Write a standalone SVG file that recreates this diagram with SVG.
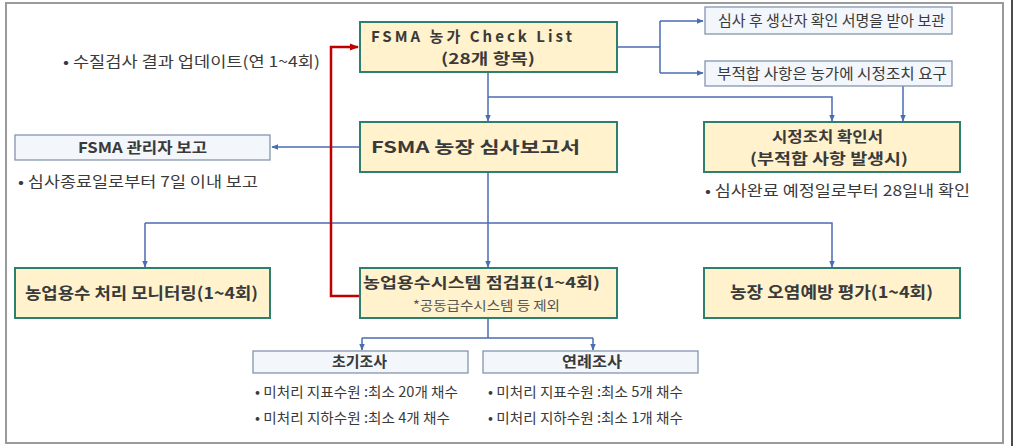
<svg xmlns="http://www.w3.org/2000/svg" width="1014" height="446" viewBox="0 0 1014 446">
<style>
text{font-family:"Noto Sans CJK KR","Noto Sans",sans-serif;fill:#3a3a3a}
.b{font-weight:bold;font-size:16px}
.b2{font-weight:bold;font-size:15px}
.n{font-size:15px}
.s{font-size:14px}
.y{fill:#FFF2CC;stroke:#2F7F6E;stroke-width:2}
.g{fill:#F3F6FA;stroke:#8496B0;stroke-width:1.3}
.c{fill:none;stroke:#4A6CB3;stroke-width:1.5}
.r{fill:none;stroke:#C00000;stroke-width:2.5}
</style>
<defs>
<marker id="a" viewBox="0 0 10 10" refX="9" refY="5" markerWidth="7" markerHeight="7" orient="auto" markerUnits="userSpaceOnUse"><path d="M0,1 L10,5 L0,9 z" fill="#4A6CB3"/></marker>
<marker id="ar" viewBox="0 0 10 10" refX="9" refY="5" markerWidth="9" markerHeight="9" orient="auto" markerUnits="userSpaceOnUse"><path d="M0,1 L10,5 L0,9 z" fill="#C00000"/></marker>
</defs>
<rect x="0" y="0" width="1014" height="446" fill="#fff"/>
<rect x="6" y="3" width="997" height="440" fill="none" stroke="#9a9a9a" stroke-width="2"/>
<line x1="1012" y1="0" x2="1012" y2="446" stroke="#111" stroke-width="1.5"/>

<g id="connectors">
<path class="c" d="M617,47 H660 M660,21 V73 M660,21 H703" marker-end="url(#a)"/>
<path class="c" d="M660,73 H703" marker-end="url(#a)"/>
<path class="c" d="M488,72 V121" marker-end="url(#a)"/>
<path class="c" d="M488,97 H832 V121" marker-end="url(#a)"/>
<path class="c" d="M903,86 V121" marker-end="url(#a)"/>
<path class="c" d="M360,147 H272" marker-end="url(#a)"/>
<path class="c" d="M488,172 V267" marker-end="url(#a)"/>
<path class="c" d="M145,223 H832 V267" marker-end="url(#a)"/>
<path class="c" d="M145,223 V267" marker-end="url(#a)"/>
<path class="c" d="M488,318 V338 M362,338 H593 M362,338 V350" marker-end="url(#a)"/>
<path class="c" d="M593,338 V350" marker-end="url(#a)"/>
<path class="r" d="M360,296 H331 V47 H358" marker-end="url(#ar)"/>
</g>

<g id="checklist">
<rect class="y" x="360" y="22" width="257" height="50"/>
<text class="b2" x="371" y="42" textLength="201" lengthAdjust="spacing">FSMA 농가 Check List</text>
<text class="b2" x="441" y="64" textLength="94" lengthAdjust="spacingAndGlyphs">(28개 항목)</text>
</g>

<g id="sign">
<rect class="g" x="705" y="7" width="247" height="27"/>
<text class="n" x="718" y="26" textLength="227" lengthAdjust="spacingAndGlyphs">심사 후 생산자 확인 서명을 받아 보관</text>
</g>

<g id="corrective-request">
<rect class="g" x="705" y="61" width="247" height="25"/>
<text class="n" x="717" y="79" textLength="230" lengthAdjust="spacingAndGlyphs">부적합 사항은 농가에 시정조치 요구</text>
</g>

<g id="water-update">
<text class="n" x="63" y="67" textLength="257" lengthAdjust="spacingAndGlyphs">• 수질검사 결과 업데이트(연 1~4회)</text>
</g>

<g id="audit-report">
<rect class="y" x="360" y="122" width="257" height="50"/>
<text class="b" x="371" y="153" textLength="209" lengthAdjust="spacingAndGlyphs">FSMA 농장 심사보고서</text>
</g>

<g id="corrective-confirm">
<rect class="y" x="704" y="122" width="256" height="50"/>
<text class="b2" x="772" y="142" textLength="111" lengthAdjust="spacingAndGlyphs">시정조치 확인서</text>
<text class="b2" x="750" y="164" textLength="158" lengthAdjust="spacingAndGlyphs">(부적합 사항 발생시)</text>
<text class="n" x="705" y="196" textLength="265" lengthAdjust="spacingAndGlyphs">• 심사완료 예정일로부터 28일내 확인</text>
</g>

<g id="manager-report">
<rect class="g" x="15" y="135" width="255" height="25"/>
<text class="b" x="78" y="153" textLength="129" lengthAdjust="spacingAndGlyphs" style="font-size:15px">FSMA 관리자 보고</text>
<text class="n" x="18" y="187" textLength="240" lengthAdjust="spacingAndGlyphs">• 심사종료일로부터 7일 이내 보고</text>
</g>

<g id="water-monitoring">
<rect class="y" x="15" y="268" width="255" height="50"/>
<text class="b" x="25" y="299" textLength="233" lengthAdjust="spacingAndGlyphs">농업용수 처리 모니터링(1~4회)</text>
</g>

<g id="water-system">
<rect class="y" x="360" y="268" width="257" height="50"/>
<text class="b2" x="363" y="288" textLength="237" lengthAdjust="spacingAndGlyphs">농업용수시스템 점검표(1~4회)</text>
<text class="s" x="413" y="310" textLength="147" lengthAdjust="spacingAndGlyphs" style="fill:#555;font-size:13px">*공동급수시스템 등 제외</text>
</g>

<g id="contamination">
<rect class="y" x="704" y="268" width="256" height="50"/>
<text class="b" x="730" y="298" textLength="203" lengthAdjust="spacingAndGlyphs">농장 오염예방 평가(1~4회)</text>
</g>

<g id="initial">
<rect class="g" x="253" y="351" width="215" height="22"/>
<text class="b" x="332" y="367" textLength="55" lengthAdjust="spacingAndGlyphs" style="font-size:15px">초기조사</text>
<text class="s" x="255" y="397" textLength="203" lengthAdjust="spacingAndGlyphs">• 미처리 지표수원 :최소 20개 채수</text>
<text class="s" x="255" y="423" textLength="195" lengthAdjust="spacingAndGlyphs">• 미처리 지하수원 :최소 4개 채수</text>
</g>

<g id="annual">
<rect class="g" x="483" y="351" width="215" height="22"/>
<text class="b" x="562" y="367" textLength="60" lengthAdjust="spacingAndGlyphs" style="font-size:15px">연례조사</text>
<text class="s" x="488" y="397" textLength="195" lengthAdjust="spacingAndGlyphs">• 미처리 지표수원 :최소 5개 채수</text>
<text class="s" x="488" y="423" textLength="195" lengthAdjust="spacingAndGlyphs">• 미처리 지하수원 :최소 1개 채수</text>
</g>
</svg>
